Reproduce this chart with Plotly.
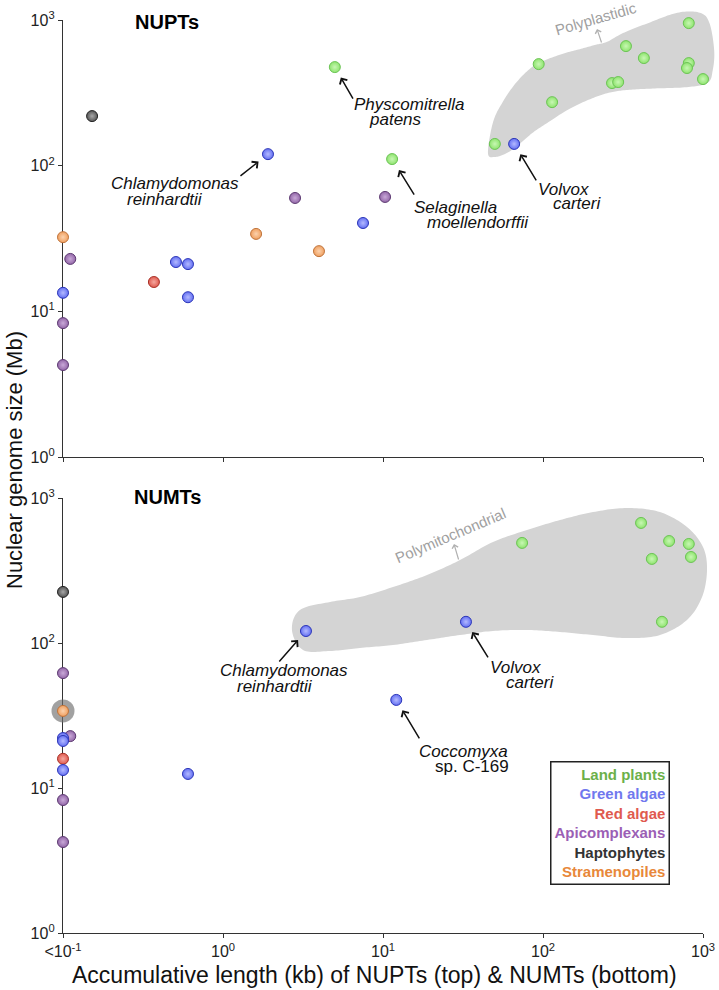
import numpy as np
import plotly.graph_objects as go

# ---------------- data (kb, Mb) ----------------
groups = ["Land plants", "Green algae", "Red algae", "Apicomplexans", "Haptophytes", "Stramenopiles"]

# NUPTs (top panel)
nupt_land_x = [5.0, 11.4, 50, 94, 114, 270, 295, 330, 427, 815, 815, 794, 1000]
nupt_land_y = [475, 111, 141, 498, 273, 369, 375, 662, 548, 952, 506, 468, 393]
nupt_green_x = [1.91, 66, 7.5, 0.1, 0.508, 0.604, 0.604]
nupt_green_y = [120, 141, 40.4, 13.4, 21.8, 21.1, 12.5]
nupt_red_x = [0.37]
nupt_red_y = [15.9]
nupt_api_x = [2.82, 10.3, 0.111, 0.1, 0.1]
nupt_api_y = [60, 61, 22.9, 8.3, 4.28]
nupt_hapto_x = [0.152]
nupt_hapto_y = [219]
nupt_stram_x = [0.1, 1.61, 3.98]
nupt_stram_y = [32.3, 34, 25.9]

# NUMTs (bottom panel)
numt_land_x = [74, 410, 614, 479, 815, 841, 554]
numt_land_y = [490, 673, 505, 380, 482, 392, 140]
numt_green_x = [3.3, 33, 12.1, 0.1, 0.1, 0.1, 0.604]
numt_green_y = [121, 140, 40.5, 22.1, 21.1, 13.3, 12.5]
numt_red_x = [0.1]
numt_red_y = [15.9]
numt_api_x = [0.1, 0.111, 0.1, 0.1]
numt_api_y = [62, 22.8, 8.26, 4.24]
numt_hapto_x = [0.1]
numt_hapto_y = [225]
numt_stram_x = [0.1]
numt_stram_y = [34]

x_tick_vals = [0.1, 1, 10, 100, 1000]
x_tick_text = ["&lt;10<sup>-1</sup>", "10<sup>0</sup>", "10<sup>1</sup>", "10<sup>2</sup>", "10<sup>3</sup>"]
y_tick_vals = [1, 10, 100, 1000]
y_tick_text = ["10<sup>0</sup>", "10<sup>1</sup>", "10<sup>2</sup>", "10<sup>3</sup>"]

# region outlines (log10 kb, log10 Mb)
poly_plast_lx = [1.656, 1.688, 1.75, 1.84, 1.95, 2.10, 2.23, 2.33, 2.40, 2.50, 2.66, 2.84, 2.98, 3.04, 3.07, 3.06, 3.03,
                 2.91, 2.70, 2.53, 2.41, 2.28, 2.15, 2.05, 1.94, 1.86, 1.78, 1.70]
poly_plast_ly = [2.087, 2.30, 2.44, 2.58, 2.69, 2.76, 2.80, 2.83, 2.85, 2.91, 2.98, 3.05, 3.05, 2.98, 2.79, 2.65, 2.57,
                 2.54, 2.53, 2.52, 2.50, 2.45, 2.38, 2.31, 2.23, 2.155, 2.09, 2.06]
poly_mito_lx = [0.431, 0.481, 0.669, 0.856, 1.0625, 1.275, 1.481, 1.6875, 1.90, 2.106, 2.3125, 2.525, 2.731, 2.90,
                3.0, 3.025, 2.994, 2.90, 2.731, 2.525, 2.3125, 2.106, 1.90, 1.6875, 1.481, 1.275, 1.0625, 0.856,
                0.669, 0.50]
poly_mito_ly = [2.090, 2.228, 2.283, 2.317, 2.386, 2.469, 2.572, 2.697, 2.779, 2.848, 2.903, 2.931, 2.903, 2.800,
                2.662, 2.503, 2.317, 2.159, 2.055, 2.034, 2.055, 2.076, 2.090, 2.083, 2.055, 2.021, 1.986, 1.966,
                1.945, 1.952]

# ---------------- styles ----------------
FONT = "Liberation Sans, Arial, sans-serif"
style = {
    "Land plants":   dict(fill="#8ee46e", center="#c8f7b4", edge="#6cc455", text="#6cb04a"),
    "Green algae":   dict(fill="#6470f2", center="#b4baff", edge="#2b35b8", text="#7078ee"),
    "Red algae":     dict(fill="#e05a4f", center="#f4a89f", edge="#a83228", text="#e05a4f"),
    "Apicomplexans": dict(fill="#9367a8", center="#c9a9d8", edge="#5d3a72", text="#9b5fb5"),
    "Haptophytes":   dict(fill="#555555", center="#a8a8a8", edge="#222222", text="#333333"),
    "Stramenopiles": dict(fill="#f0a060", center="#fbd2ae", edge="#c0733a", text="#e8883a"),
}

top_sets = [(nupt_land_x, nupt_land_y), (nupt_green_x, nupt_green_y), (nupt_red_x, nupt_red_y),
            (nupt_api_x, nupt_api_y), (nupt_hapto_x, nupt_hapto_y), (nupt_stram_x, nupt_stram_y)]
bot_sets = [(numt_land_x, numt_land_y), (numt_green_x, numt_green_y), (numt_red_x, numt_red_y),
            (numt_api_x, numt_api_y), (numt_hapto_x, numt_hapto_y), (numt_stram_x, numt_stram_y)]

fig = go.Figure()

# halo around highlighted stramenopile (bottom)
fig.add_trace(go.Scatter(x=[numt_stram_x[0]], y=[numt_stram_y[0]], mode="markers",
                         marker=dict(size=23, color="rgba(110,110,110,0.65)", line=dict(width=0)),
                         xaxis="x2", yaxis="y2", cliponaxis=False, showlegend=False, hoverinfo="skip"))

draw_order = [4, 3, 2, 5, 1, 0]
for sets, xa, ya in [(top_sets, "x", "y"), (bot_sets, "x2", "y2")]:
    for gi in draw_order:
        g = groups[gi]
        s = style[g]
        xs, ys = sets[gi]
        fig.add_trace(go.Scatter(
            x=xs, y=ys, mode="markers", name=g, xaxis=xa, yaxis=ya, cliponaxis=False, showlegend=False,
            marker=dict(size=11, color=s["fill"], line=dict(color=s["edge"], width=1),
                        gradient=dict(type="radial", color=s["center"]))))

# ---------------- layout ----------------
TOP_D0 = 476 / 913
BOT_D1 = 435 / 913

axis_common = dict(type="log", showline=True, linecolor="#333", linewidth=1.3, ticks="outside", ticklen=4,
                   tickwidth=1.2, tickcolor="#333", showgrid=False, zeroline=False, layer="below traces",
                   automargin=False, tickfont=dict(family=FONT, size=16, color="#222"))

fig.update_layout(
    width=719, height=990, margin=dict(l=63, r=16, t=20, b=57, autoexpand=False),
    paper_bgcolor="white", plot_bgcolor="white", showlegend=False,
    xaxis=dict(axis_common, domain=[0, 1], anchor="y", range=[-1, 3], tickvals=x_tick_vals,
               ticktext=x_tick_text, showticklabels=False),
    yaxis=dict(axis_common, domain=[TOP_D0, 1], anchor="x", range=[0, 3], tickvals=y_tick_vals,
               ticktext=y_tick_text),
    xaxis2=dict(axis_common, domain=[0, 1], anchor="y2", range=[-1, 3], tickvals=x_tick_vals,
                ticktext=x_tick_text),
    yaxis2=dict(axis_common, domain=[0, BOT_D1], anchor="x2", range=[0, 3], tickvals=y_tick_vals,
                ticktext=y_tick_text),
)


def smooth_closed(xs, ys, n=14):
    P = np.column_stack([xs, ys]).astype(float)
    N = len(P)
    out = []
    for i in range(N):
        p0, p1, p2, p3 = P[i - 1], P[i], P[(i + 1) % N], P[(i + 2) % N]
        for t in np.linspace(0, 1, n, endpoint=False):
            t2, t3 = t * t, t * t * t
            out.append(0.5 * ((2 * p1) + (-p0 + p2) * t + (2 * p0 - 5 * p1 + 4 * p2 - p3) * t2
                              + (-p0 + 3 * p1 - 3 * p2 + p3) * t3))
    return np.array(out)


def region_path(lx, ly, d0, d1):
    pts = smooth_closed(lx, ly)
    xp = (pts[:, 0] + 1) / 4
    yp = d0 + pts[:, 1] / 3 * (d1 - d0)
    return "M " + " L ".join(f"{a:.5f},{b:.5f}" for a, b in zip(xp, yp)) + " Z"


fig.add_shape(type="path", xref="paper", yref="paper", layer="below",
              path=region_path(poly_plast_lx, poly_plast_ly, TOP_D0, 1),
              fillcolor="#d4d4d4", line=dict(width=0))
fig.add_shape(type="path", xref="paper", yref="paper", layer="below",
              path=region_path(poly_mito_lx, poly_mito_ly, 0, BOT_D1),
              fillcolor="#d4d4d4", line=dict(width=0))

ann = []


def lg(v):
    return float(np.log10(v))


def species(xa, ya, px, py, lines, tail, standoff=12):
    for txt, dx, dy, anchor in lines:
        ann.append(dict(x=lg(px), y=lg(py), xref=xa, yref=ya, text=txt, showarrow=False,
                        xanchor=anchor, yanchor="middle", xshift=dx, yshift=-dy,
                        font=dict(family=FONT, size=17, color="#111")))
    ann.append(dict(x=lg(px), y=lg(py), xref=xa, yref=ya, text="", showarrow=True, ax=tail[0], ay=tail[1],
                    standoff=standoff, arrowhead=4, arrowsize=1.1, arrowwidth=1.5, arrowcolor="#111"))


# top panel labels
species("x", "y", nupt_green_x[0], nupt_green_y[0],
        [("<i>Chlamydomonas</i>", -159, 29, "left"), ("<i>reinhardtii</i>", -143, 45, "left")], (-29, 23))
species("x", "y", nupt_land_x[0], nupt_land_y[0],
        [("<i>Physcomitrella</i>", 17, 37, "left"), ("<i>patens</i>", 32, 52, "left")], (19, 33))
species("x", "y", nupt_land_x[1], nupt_land_y[1],
        [("<i>Selaginella</i>", 20, 48, "left"), ("<i>moellendorffii</i>", 33, 63, "left")], (23, 37), 13)
species("x", "y", nupt_green_x[1], nupt_green_y[1],
        [("<i>Volvox</i>", 22, 46, "left"), ("<i>carteri</i>", 37, 60, "left")], (23, 38))
# bottom panel labels
species("x2", "y2", numt_green_x[0], numt_green_y[0],
        [("<i>Chlamydomonas</i>", -88, 39, "left"), ("<i>reinhardtii</i>", -71, 55, "left")], (-28, 32))
species("x2", "y2", numt_green_x[1], numt_green_y[1],
        [("<i>Volvox</i>", 22, 46, "left"), ("<i>carteri</i>", 38, 61, "left")], (23, 37))
species("x2", "y2", numt_green_x[2], numt_green_y[2],
        [("<i>Coccomyxa</i>", 114, 52, "right"), ("sp. C-169", 115, 67, "right")], (24, 40))


def px2paper(px, py):
    return (px - 63) / 640, (933 - py) / 913


# panel titles
for txt, (cx, cy) in [("NUPTs", (167, 22.5)), ("NUMTs", (167.5, 497))]:
    xp, yp = px2paper(cx, cy)
    ann.append(dict(x=xp, y=yp, xref="paper", yref="paper", text=f"<b>{txt}</b>", showarrow=False,
                    xanchor="center", yanchor="middle", font=dict(family=FONT, size=20, color="#000")))

# region labels
for txt, (cx, cy), ang, (hx, hy), (tx, ty) in [
    ("Polyplastidic", (596, 19), -16, (597, 29), (5, 15)),
    ("Polymitochondrial", (450, 535), -23, (454, 544), (5, 17)),
]:
    xp, yp = px2paper(cx, cy)
    ann.append(dict(x=xp, y=yp, xref="paper", yref="paper", text=txt, showarrow=False, textangle=ang,
                    xanchor="center", yanchor="middle", font=dict(family=FONT, size=15, color="#a0a0a0")))
    hxp, hyp = px2paper(hx, hy)
    ann.append(dict(x=hxp, y=hyp, xref="paper", yref="paper", text="", showarrow=True, ax=tx, ay=ty,
                    arrowhead=4, arrowsize=1, arrowwidth=1.2, arrowcolor="#b0b0b0"))

# legend box
legend_text = "<br>".join(f"<span style='color:{style[g]['text']}'><b>{g}</b></span>" for g in groups)
lxp, lyp = px2paper(670, 761)
ann.append(dict(x=lxp, y=lyp, xref="paper", yref="paper", text=legend_text, showarrow=False, align="right",
                xanchor="right", yanchor="top", bordercolor="#222", borderwidth=1.5, borderpad=3,
                bgcolor="white", font=dict(family=FONT, size=15)))

# axis titles
xp, yp = px2paper(14, 460)
ann.append(dict(x=xp, y=yp, xref="paper", yref="paper", text="Nuclear genome size (Mb)", showarrow=False,
                textangle=-90, xanchor="center", yanchor="middle", font=dict(family=FONT, size=22, color="#111")))
xp, yp = px2paper(374.5, 975)
ann.append(dict(x=xp, y=yp, xref="paper", yref="paper",
                text="Accumulative length (kb) of NUPTs (top) &amp; NUMTs (bottom)", showarrow=False,
                xanchor="center", yanchor="middle", font=dict(family=FONT, size=23, color="#111")))

fig.update_layout(annotations=ann)
fig.write_html("out.html", config={"displayModeBar": False},
               post_script="document.body.style.margin='0';document.body.style.overflow='hidden';")
